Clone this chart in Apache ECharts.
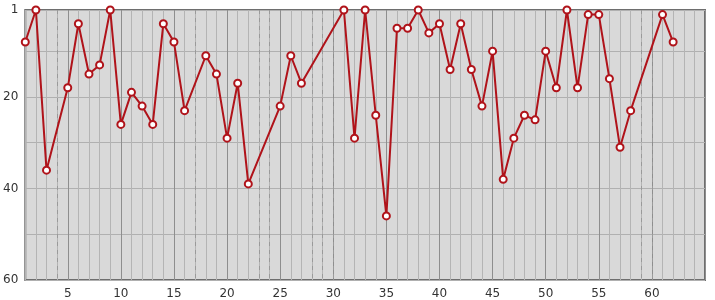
<!DOCTYPE html>
<html>
<head>
<meta charset="utf-8">
<script src="https://cdn.jsdelivr.net/npm/echarts@6/dist/echarts.min.js"></script>
<style>html,body{margin:0;padding:0;background:#fff}#c{width:715px;height:300px}</style>
</head>
<body>
<div id="c"></div>
<script>
var days  = [1,2,3,5,6,7,8,9,10,11,12,13,14,15,16,18,19,20,21,22,25,26,27,31,32,33,34,35,36,37,38,39,40,41,42,43,44,45,46,47,48,49,50,51,52,53,54,55,56,57,58,61,62];
var ranks = [8,1,36,18,4,15,13,1,26,19,22,26,4,8,23,11,15,29,17,39,22,11,17,1,29,1,24,46,5,5,1,6,4,14,4,14,22,10,38,29,24,25,10,18,1,18,2,2,16,31,23,2,8];
var xLabels = [5,10,15,20,25,30,35,40,45,50,55,60];
var yLabels = [1,20,40,60];
var yGrid = [1,10,20,30,40,50,60];
var xMin = 1, xMax = 65;

var seriesData = days.map(function(d,i){return [d, ranks[i]];});
var missing = [];
for (var i = 1; i < days.length; i++) {
  for (var g = days[i-1] + 1; g < days[i]; g++) missing.push(g);
}
var minorColors = ['#b4b4b4','#b4b4b4','#b4b4b4','#b4b4b4','#8e8e8e'];

var chart = echarts.init(document.getElementById('c'));
chart.setOption({
  animation: false,
  grid: {left: 25, right: 10, top: 10, bottom: 20, show: true,
         backgroundColor: '#d9d9d9', borderColor: '#6e6e6e', borderWidth: 2},
  xAxis: {
    type: 'value', min: xMin, max: xMax, interval: 1,
    axisLine: {show: false}, axisTick: {show: false},
    axisLabel: {color: '#333', fontSize: 12, fontFamily: 'DejaVu Sans', margin: 8,
      formatter: function(v){ return xLabels.indexOf(v) >= 0 ? String(v) : ''; }},
    splitLine: {show: true, lineStyle: {color: minorColors, width: 1}}
  },
  yAxis: {
    type: 'value', inverse: true, min: 1, max: 60,
    axisLine: {show: false},
    axisTick: {show: false, customValues: yGrid},
    axisLabel: {color: '#333', fontSize: 12, fontFamily: 'DejaVu Sans', margin: 7, customValues: yLabels},
    splitLine: {show: true, lineStyle: {color: '#b0b0b0', width: 1}}
  },
  series: [{
    type: 'line',
    data: seriesData,
    connectNulls: true,
    symbol: 'circle', symbolSize: 7,
    lineStyle: {color: '#b0131a', width: 2},
    itemStyle: {color: '#ffffff', borderColor: '#b0131a', borderWidth: 2},
    z: 5,
    markLine: {
      silent: true, symbol: 'none', label: {show: false},
      lineStyle: {color: '#9a9a9a', type: [4, 4], width: 1},
      data: missing.map(function(m){ return {xAxis: m}; })
    }
  }]
});
</script>
</body>
</html>
